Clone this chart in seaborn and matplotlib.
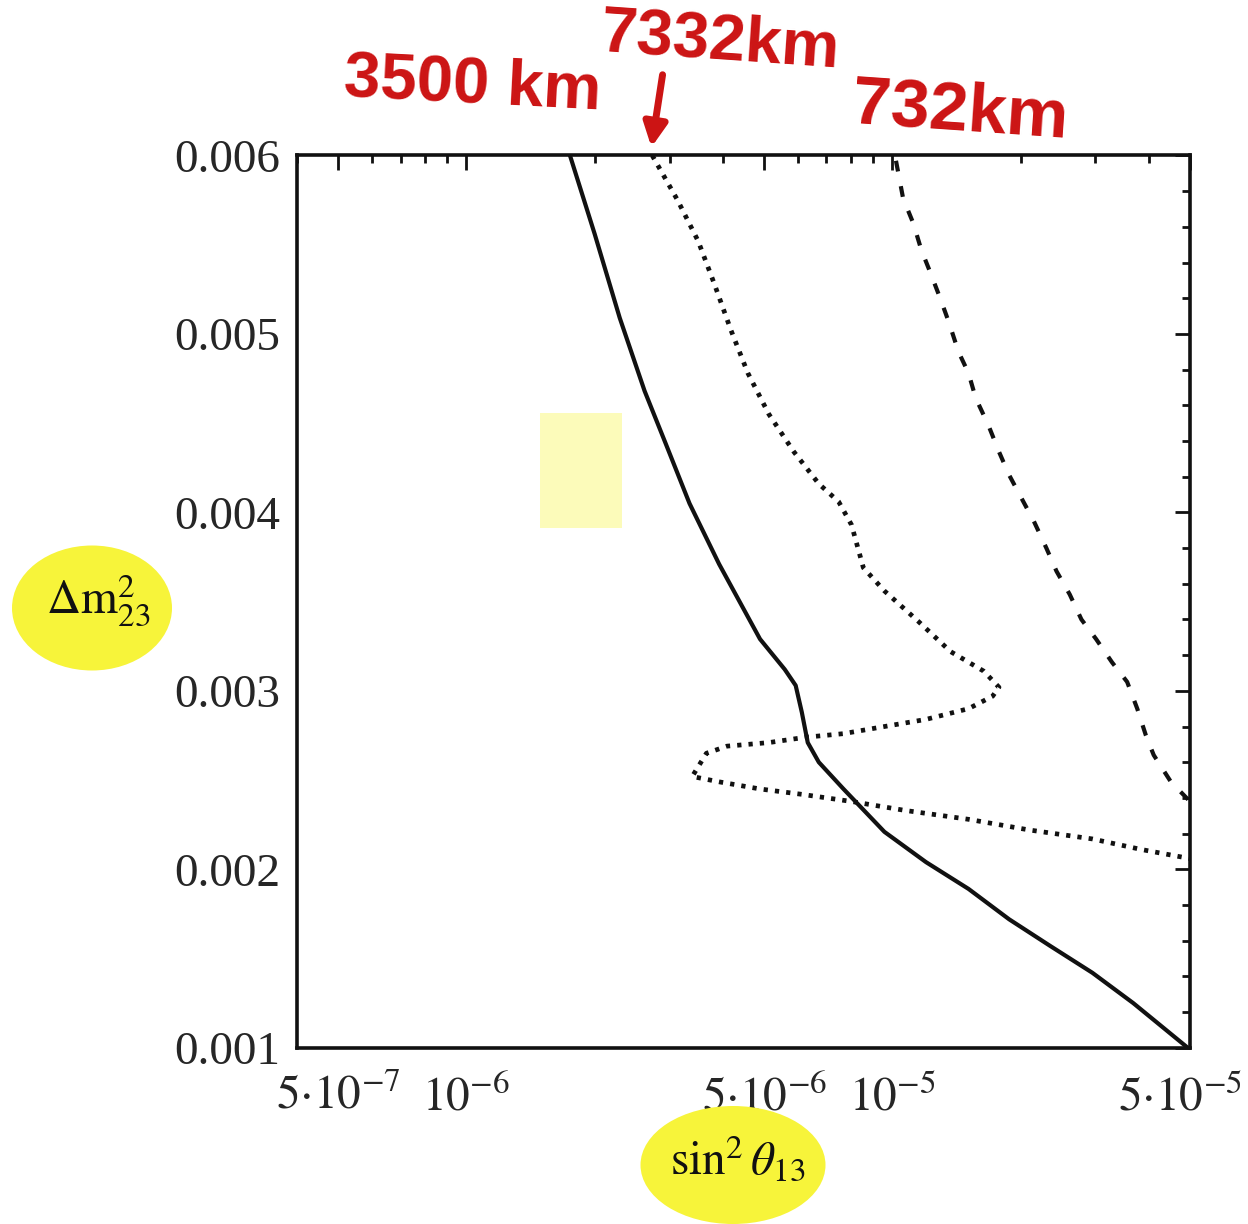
import numpy as np
import pandas as pd
import matplotlib
matplotlib.use("Agg")
import matplotlib.pyplot as plt
import matplotlib.transforms as mtransforms
from matplotlib.patches import Ellipse, FancyArrowPatch
import seaborn as sns

# ---- data ----
# 3500 km (solid)
x_3500 = [1.75e-6, 2.0e-6, 2.29e-6, 2.62e-6, 2.92e-6, 3.34e-6, 3.92e-6, 4.89e-6,
          5.59e-6, 5.93e-6, 6.13e-6, 6.33e-6, 6.72e-6, 7.68e-6, 9.58e-6, 1.20e-5,
          1.51e-5, 1.88e-5, 2.35e-5, 2.95e-5, 3.68e-5, 4.94e-5]
y_3500 = [0.00600, 0.00556, 0.00509, 0.00468, 0.00440, 0.00405, 0.00371, 0.00329,
          0.00312, 0.00303, 0.00288, 0.00271, 0.00260, 0.00245, 0.00221, 0.00204,
          0.00189, 0.00172, 0.00157, 0.00142, 0.00125, 0.00100]

# 7332 km (dotted, folds back on itself)
x_7332 = [2.73e-6, 3.13e-6, 3.50e-6, 3.82e-6, 4.18e-6, 4.58e-6, 5.13e-6, 5.87e-6,
          6.72e-6, 7.48e-6, 8.02e-6, 8.55e-6, 9.58e-6, 1.15e-5, 1.37e-5, 1.64e-5,
          1.78e-5, 1.72e-5, 1.51e-5, 1.20e-5, 9.58e-6, 7.68e-6, 6.26e-6, 5.13e-6,
          4.09e-6, 3.66e-6, 3.47e-6, 3.39e-6, 3.92e-6, 4.89e-6, 6.13e-6, 8.02e-6,
          1.07e-5, 1.51e-5, 2.10e-5, 2.95e-5, 3.86e-5, 5.0e-5]
y_7332 = [0.00600, 0.00575, 0.00552, 0.00528, 0.00502, 0.00478, 0.00455, 0.00434,
          0.00416, 0.00406, 0.00393, 0.00369, 0.00356, 0.00339, 0.00322, 0.00311,
          0.00302, 0.00297, 0.00290, 0.00284, 0.00280, 0.00276, 0.00274, 0.00271,
          0.00269, 0.00265, 0.00256, 0.00252, 0.00249, 0.00245, 0.00242, 0.00238,
          0.00233, 0.00228, 0.00222, 0.00217, 0.00211, 0.00206]

# 732 km (dashed)
x_732 = [1.02e-5, 1.06e-5, 1.12e-5, 1.17e-5, 1.23e-5, 1.30e-5, 1.36e-5, 1.43e-5,
         1.51e-5, 1.57e-5, 1.68e-5, 1.78e-5, 1.88e-5, 2.01e-5, 2.15e-5, 2.30e-5,
         2.43e-5, 2.61e-5, 2.78e-5, 3.01e-5, 3.28e-5, 3.56e-5, 3.76e-5, 3.94e-5,
         4.11e-5, 4.51e-5, 5.0e-5]
y_732 = [0.00597, 0.00576, 0.00562, 0.00547, 0.00534, 0.00519, 0.00506, 0.00490,
         0.00478, 0.00464, 0.00449, 0.00434, 0.00421, 0.00408, 0.00395, 0.00380,
         0.00367, 0.00354, 0.00340, 0.00329, 0.00316, 0.00305, 0.00290, 0.00275,
         0.00264, 0.00249, 0.00238]

x_major = [5e-7, 1e-6, 5e-6, 1e-5, 5e-5]
x_labels = [r"$5{\cdot}10^{-7}$", r"$10^{-6}$", r"$5{\cdot}10^{-6}$",
            r"$10^{-5}$", r"$5{\cdot}10^{-5}$"]
y_major = [0.001, 0.002, 0.003, 0.004, 0.005, 0.006]
y_labels = ["0.001", "0.002", "0.003", "0.004", "0.005", "0.006"]

# ---- style ----
sns.set_style("white")
plt.rcParams["font.family"] = ["Liberation Serif", "DejaVu Serif"]
plt.rcParams["mathtext.fontset"] = "stix"

fig = plt.figure(figsize=(12.48, 12.24), dpi=100)
ax = fig.add_axes([0.238, 0.144, 0.7155, 0.729])

ink = "#111111"
sns.lineplot(x=x_3500, y=y_3500, ax=ax, sort=False, estimator=None,
             color=ink, lw=3.0)
sns.lineplot(x=x_7332, y=y_7332, ax=ax, sort=False, estimator=None,
             color=ink, lw=3.4, linestyle=(0, (0.9, 1.5)))
sns.lineplot(x=x_732, y=y_732, ax=ax, sort=False, estimator=None,
             color=ink, lw=3.0, linestyle=(0, (2.6, 3.6)))

ax.set_xscale("log")
ax.set_xlim(4e-7, 5e-5)
ax.set_ylim(0.001, 0.006)

ax.set_xticks(x_major)
ax.set_xticklabels(x_labels)
minor_x = [m * 10.0 ** e for e in (-7, -6, -5) for m in range(2, 10)]
minor_x = [v for v in minor_x if 4e-7 <= v <= 5e-5 and v not in x_major]
ax.set_xticks(minor_x, minor=True)
ax.set_xticklabels([], minor=True)

ax.set_yticks(y_major)
ax.set_yticklabels(y_labels)
ax.set_yticks(np.arange(0.001, 0.00601, 0.0002), minor=True)

ax.tick_params(which="both", direction="in", top=True, right=True,
               color=ink, width=2.0)
ax.tick_params(which="major", length=11)
ax.tick_params(which="minor", length=6)
ax.tick_params(axis="y", which="major", labelsize=34, pad=12)
ax.tick_params(axis="x", which="major", labelsize=34, pad=20)

# last x label sits a bit left of its tick, as in the scan
last = ax.get_xticklabels()[-1]
last.set_transform(last.get_transform() +
                   mtransforms.ScaledTranslation(-0.1, 0, fig.dpi_scale_trans))

for sp in ax.spines.values():
    sp.set_visible(True)
    sp.set_color(ink)
    sp.set_linewidth(2.6)

ax.set_xlabel("")
ax.set_ylabel("")

# ---- yellow highlighter marks ----
yel = "#f7f43a"
fig.patches.append(Ellipse((92 / 1248, 1 - 608 / 1224), 160 / 1248, 125 / 1224,
                           transform=fig.transFigure, fc=yel, ec="none", zorder=0))
fig.patches.append(Ellipse((733 / 1248, 1 - 1165 / 1224), 185 / 1248, 118 / 1224,
                           transform=fig.transFigure, fc=yel, ec="none", zorder=0))
ax.add_patch(plt.Rectangle((540 / 1248, 1 - 528 / 1224), 82 / 1248, 115 / 1224,
                           transform=fig.transFigure, fc=yel, ec="none",
                           alpha=0.35, zorder=0))

fig.text(98 / 1248, 1 - 600 / 1224, r"$\Delta\mathrm{m}^2_{23}$",
         ha="center", va="center", fontsize=34, color=ink)
fig.text(738 / 1248, 1 - 1160 / 1224, r"$\sin^2\theta_{13}$",
         ha="center", va="center", fontsize=34, color=ink)

# ---- red handwritten annotations ----
red = "#cc1414"
hand = dict(color=red, fontweight="bold", family=["Liberation Sans", "DejaVu Sans"],
            ha="center", va="center")
fig.text(472 / 1248, 1 - 85 / 1224, "3500 km", fontsize=47, rotation=-3, **hand)
fig.text(720 / 1248, 1 - 42 / 1224, "7332km", fontsize=47, rotation=-4, **hand)
fig.text(960 / 1248, 1 - 112 / 1224, "732km", fontsize=50, rotation=-4, **hand)
fig.patches.append(FancyArrowPatch((663 / 1248, 1 - 72 / 1224), (651 / 1248, 1 - 150 / 1224),
                                   transform=fig.transFigure, color=red,
                                   arrowstyle="-|>,head_length=14,head_width=7", lw=5))

fig.savefig("out.png", dpi=100, facecolor="white")
